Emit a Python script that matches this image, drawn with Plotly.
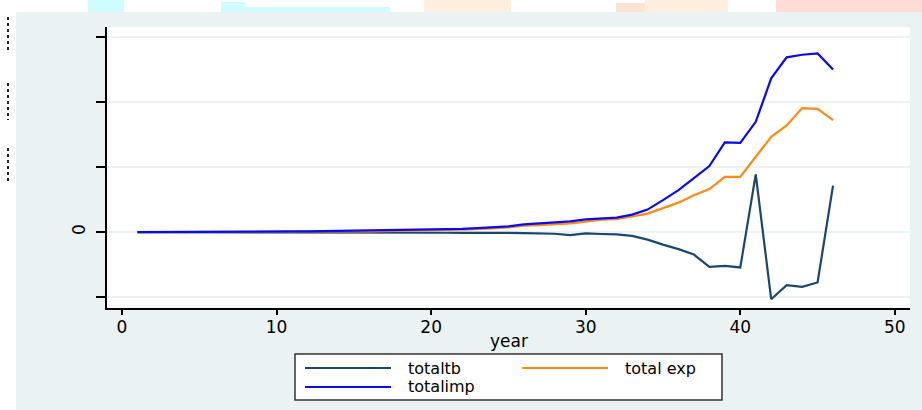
import plotly.graph_objects as go

# ---- data (values in billions; y tick step = 100) ----
years = list(range(1, 47))
totaltb = [0, 0, 0, 0, 0, 0, 0, 0, 0, 0, 0, 0, 0, 0, -0.46, -0.31, -0.46, -0.61, -0.92, -0.77,
           -0.92, -1.23, -0.92, -0.61, -1.08, -1.54, -1.84, -2.46, -4.6, -2.0,
           -2.9, -3.4, -5.8, -11.5, -19.2, -26.1, -34.4, -53.3, -51.8, -54.2,
           88.6, -103.0, -81.4, -84.0, -77.3, 71.3]
total_exp = [0, 0, 0, 0, 0.31, 0.31, 0.31, 0.31, 0.31, 0.61, 0.7, 0.8, 0.9, 1.0, 1.1, 1.3, 1.5, 1.8, 2.3, 3.07,
             3.38, 3.99, 4.61, 5.68, 7.37, 9.83, 10.75, 11.67, 13.36, 16.1,
             19.2, 19.97, 23.8, 28.4, 36.9, 45.3, 56.5, 66.1, 84.9, 84.9,
             115.7, 146.4, 163.9, 190.5, 189.4, 172.0]
totalimp = [0, 0, 0, 0, 0.31, 0.31, 0.46, 0.46, 0.61, 0.92, 1.08, 1.23, 1.54, 1.69, 1.84, 2.15, 2.46, 2.61, 3.07, 3.69,
            4.3, 4.92, 6.14, 7.37, 8.76, 11.98, 13.2, 14.6, 16.4, 19.5,
            20.7, 22.3, 26.9, 34.6, 49.2, 64.5, 83.0, 101.4, 137.8, 137.2,
            169.4, 236.1, 268.4, 272.4, 274.5, 249.9]

series_names = ["totaltb", "total exp", "totalimp"]
series_colors = ["#1a476f", "#ff8a14", "#0a0aee"]
x_ticks = [0, 10, 20, 30, 40, 50]
y_ticks = [-100, 0, 100, 200, 300]
y_ticktext = ["", "0", "", "", ""]
x_title = "year"

# ---- layout geometry (pixels) ----
W, H = 922, 410
L, R, T, B = 107, 12, 27, 102
PW, PH = W - L - R, H - T - B


def px(x):
    return (x - L) / PW


def py(y):
    return (H - B - y) / PH


BG = "#eaf2f3"
FONT = "DejaVu Sans"

fig = go.Figure()
for name, col, vals in zip(series_names, series_colors, [totaltb, total_exp, totalimp]):
    fig.add_trace(go.Scatter(x=years, y=vals, mode="lines", name=name,
                             line=dict(color=col, width=2.2), showlegend=False))

shapes = []
# white strips outside the graph region
shapes.append(dict(type="rect", xref="paper", yref="paper", x0=px(0), x1=px(W), y0=py(0), y1=py(12),
                   fillcolor="white", line=dict(width=0), layer="below"))
shapes.append(dict(type="rect", xref="paper", yref="paper", x0=px(0), x1=px(16), y0=py(0), y1=py(H),
                   fillcolor="white", line=dict(width=0), layer="below"))
# coloured blobs along the top edge
for x0, x1, y0, col in [(88, 124, 0, "#cffcfc"), (221, 245, 2, "#cffcfc"), (245, 390, 7, "#cffcfc"),
                        (424, 511, 0, "#ffeedd"), (616, 645, 3, "#ffe2d2"), (645, 728, 0, "#ffeedd"),
                        (776, 922, 0, "#ffdcd5")]:
    shapes.append(dict(type="rect", xref="paper", yref="paper", x0=px(x0), x1=px(x1), y0=py(y0), y1=py(12),
                       fillcolor=col, line=dict(width=0), layer="below"))
# clipped label fragments at far left
for y0, y1 in [(17, 53), (83, 120), (148, 182)]:
    shapes.append(dict(type="line", xref="paper", yref="paper", x0=px(8), x1=px(8), y0=py(y0), y1=py(y1),
                       line=dict(color="#222", width=2, dash="dot"), layer="above"))
# legend box
shapes.append(dict(type="rect", xref="paper", yref="paper", x0=px(295), x1=px(722), y0=py(354), y1=py(400),
                   fillcolor="white", line=dict(color="#333", width=1.5), layer="above"))
leg_pos = [(305, 391, 406, 368), (522, 608, 623, 368), (305, 391, 406, 387)]
annotations = []
for (lx0, lx1, tx, ly), name, col in zip(leg_pos, series_names, series_colors):
    shapes.append(dict(type="line", xref="paper", yref="paper", x0=px(lx0), x1=px(lx1), y0=py(ly), y1=py(ly),
                       line=dict(color=col, width=2), layer="above"))
    annotations.append(dict(xref="paper", yref="paper", x=px(tx), y=py(ly), text=name, showarrow=False,
                            xanchor="left", yanchor="middle", font=dict(family=FONT, size=16, color="black")))
# x axis title
annotations.append(dict(xref="paper", yref="paper", x=px(509), y=py(341), text=x_title, showarrow=False,
                        xanchor="center", yanchor="middle", font=dict(family=FONT, size=17, color="black")))

fig.update_layout(
    width=W, height=H,
    margin=dict(l=L, r=R, t=T, b=B, pad=0),
    paper_bgcolor=BG, plot_bgcolor="white",
    font=dict(family=FONT, size=17, color="black"),
    shapes=shapes, annotations=annotations, showlegend=False,
    xaxis=dict(range=[-0.97, 50.98], tickvals=x_ticks, ticks="outside", ticklen=5, tickwidth=1.5,
               tickcolor="black", showline=True, linecolor="black", linewidth=1.5, showgrid=False,
               zeroline=False, tickfont=dict(family=FONT, size=17), ticklabelstandoff=-2,
               automargin=False),
    yaxis=dict(range=[-116.5, 315.0], tickvals=y_ticks, ticktext=y_ticktext, ticks="outside", ticklen=9,
               tickwidth=1.5, tickcolor="black", showline=True, linecolor="black", linewidth=1.5,
               showgrid=True, gridcolor=BG, gridwidth=1.5, zeroline=False, tickangle=-90,
               tickfont=dict(family=FONT, size=17), ticklabelstandoff=4, automargin=False),
)

fig.write_html("out.html", config={"displayModeBar": False},
               post_script="document.body.style.margin='0px';document.body.style.padding='0px';")
